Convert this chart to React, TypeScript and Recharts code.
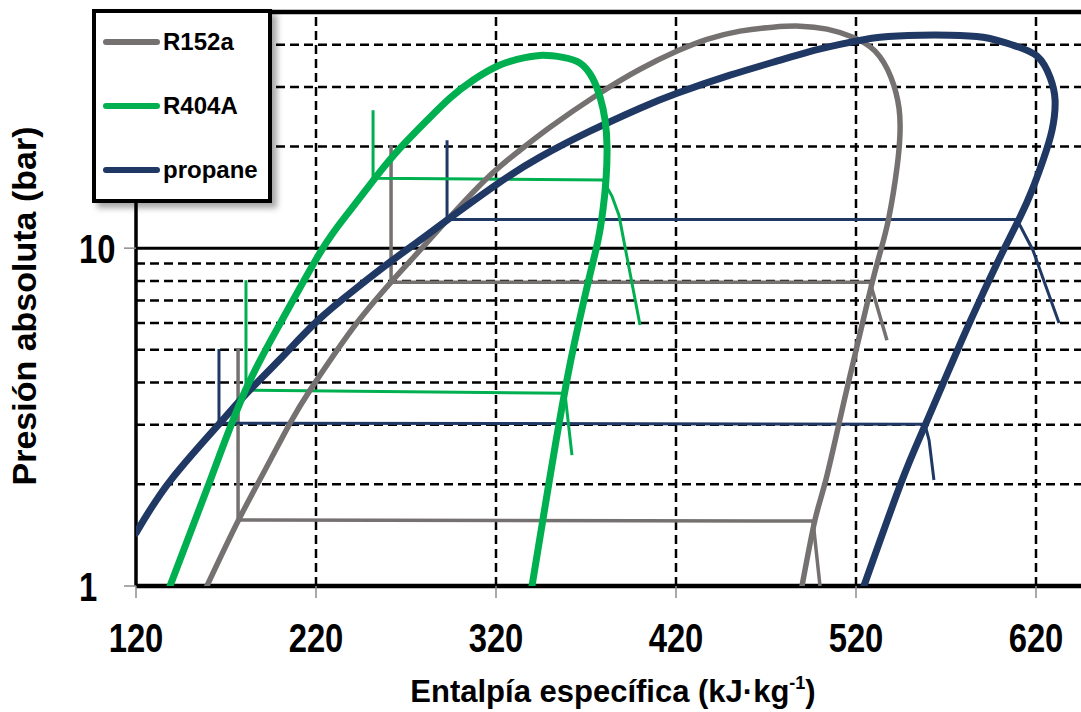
import React from 'react';
import { ComposedChart, Line, XAxis, YAxis, ReferenceLine, Label } from 'recharts';

// enthalpy (kJ/kg) vs absolute pressure (bar)
const r152aDome = [
  [159.4, 1.0], [176.7, 1.557], [191.7, 2.204], [205.6, 3.035], [216.7, 3.8], [230.6, 4.89],
  [244.4, 6.17], [262.2, 7.99], [277.8, 9.86], [292.8, 12.1], [315, 16.11], [333.3, 19.49],
  [350, 22.8], [376.1, 28.4], [400, 33.85], [420.6, 38.3], [437.2, 41.5], [455.6, 43.9],
  [473.9, 45.1], [488.9, 45.4], [503.9, 44.5], [518.3, 42.1], [530.6, 38.3], [539.4, 32.06],
  [543.9, 25.96], [544.4, 21.6], [542.8, 17.36], [538.3, 12.35], [533.3, 9.66], [528.9, 7.88],
  [524.4, 6.25], [516.1, 4.07], [510.6, 3.035], [502.8, 2.017], [497.2, 1.568], [490, 1.0],
];
const r404aDome = [
  [138.9, 1.0], [161.1, 2.045], [180.6, 3.776], [201.1, 6.12], [222.8, 9.8], [237.8, 12.69],
  [252.8, 16.11], [266.7, 19.76], [281.7, 23.9], [294.4, 27.8], [307.2, 31.4], [320.6, 34.55],
  [331.7, 36.2], [344.4, 37.2], [357.2, 36.7], [366.7, 35.3], [373.3, 32.1], [377.8, 28.0],
  [380.6, 23.9], [381.7, 19.9], [381.1, 15.9], [379.4, 12.95], [376.7, 10.56], [372.8, 8.61],
  [368.9, 7.02], [363.9, 5.34], [359.4, 4.07], [354.4, 2.894], [349.4, 2.017], [340, 1.0],
];
const propaneDome = [
  [120, 1.435], [138.9, 2.045], [166.1, 3.014], [181.1, 3.7], [200, 4.69], [220.6, 6.08],
  [241.7, 7.56], [261.1, 9.09], [277.8, 10.56], [292.8, 12.1], [320.6, 15.47], [344.4, 18.59],
  [372.2, 22.19], [400, 25.96], [420.6, 28.74], [450, 32.5], [473.9, 35.5], [492.8, 38.0],
  [511.1, 40.1], [533.3, 42.1], [555.6, 42.7], [572.2, 42.7], [590.6, 42.1], [607.2, 39.9],
  [620.6, 37.0], [627.8, 32.06], [630.6, 27.4], [628.9, 22.34], [623.9, 18.2], [617.8, 14.85],
  [611.1, 12.35], [601.1, 9.66], [590.6, 7.36], [578.3, 5.27], [558.9, 3.035], [545, 2.017],
  [524.4, 1.0],
];

// isotherms: liquid leg, two-phase plateau, vapour leg
const r152aHigh = [[261.7, 20.17], [261.7, 7.93], [527.8, 7.93], [537.2, 5.34]];
const r152aLow = [[176.7, 5.06], [176.7, 1.568], [496.1, 1.557], [500, 1.0]];
const r404aHigh = [[251.7, 25.6], [251.7, 16.1], [379.4, 15.9], [384.4, 14.26], [388.3, 12.52], [400, 5.92]];
const r404aLow = [[181.1, 8.04], [181.1, 3.8], [358.3, 3.72], [362.2, 2.44]];
const propaneHigh = [[292.8, 20.87], [292.8, 12.15], [609.4, 12.15], [618.3, 9.86], [632.8, 6.0]];
const propaneLow = [[166.1, 5.03], [166.1, 3.035], [558.3, 3.01], [560.6, 2.7], [563.3, 2.06]];

const xTicks = [120, 220, 320, 420, 520, 620];
const yTicks = [1, 10];
const xGrid = [220, 320, 420, 520, 620];
const yGrid = [2, 3, 4, 5, 6, 7, 8, 9, 20, 30, 40];

const legendNames = ['R152a', 'R404A', 'propane'];
const legendColors = ['#767171', '#00B050', '#203864'];

const FONT = "'Liberation Sans', Arial, sans-serif";

const pts = (pairs: number[][]) => pairs.map(([h, p]) => ({ h, p }));

const XTick = (props: any) => {
  const { x, y, payload } = props;
  return (
    <g transform={`translate(${x},${y})`}>
      <text transform="scale(0.8,1)" textAnchor="middle" dy="0.72em" fontSize={41} fontWeight="bold" fontFamily={FONT} fill="#000">
        {payload.value}
      </text>
    </g>
  );
};

const YTick = (props: any) => {
  const { x, y, payload } = props;
  return (
    <g transform={`translate(${x - 43},${y})`}>
      <text transform="scale(0.8,1)" textAnchor="start" dy="0.36em" fontSize={41} fontWeight="bold" fontFamily={FONT} fill="#000">
        {payload.value}
      </text>
    </g>
  );
};

const App: React.FC = () => {
  const lineProps = { type: 'linear' as const, dataKey: 'p', dot: false, activeDot: false, isAnimationActive: false };
  const domeProps = { ...lineProps, type: 'natural' as const, strokeLinecap: 'round' as const };
  return (
    <div style={{ position: 'absolute', left: 0, top: 0, width: 1081, height: 712, background: '#fff', overflow: 'hidden' }}>
      <ComposedChart width={1081} height={712} margin={{ top: 12, right: 0, bottom: 0, left: 0 }}>
        <XAxis
          type="number"
          dataKey="h"
          domain={[120, 645]}
          allowDataOverflow
          ticks={xTicks}
          height={126}
          axisLine={false}
          tickLine={{ stroke: '#8c8c8c', strokeWidth: 1.5 }}
          tickSize={12}
          tickMargin={24}
          tick={XTick}
        >
          <Label
            content={() => (
              <text x={613} y={702} textAnchor="middle" fontSize={31} fontWeight="bold" fontFamily={FONT} fill="#000">
                <tspan>Entalpía específica (kJ·kg</tspan>
                <tspan dy={-13} fontSize={18}>-1</tspan>
                <tspan dy={13}>)</tspan>
              </text>
            )}
          />
        </XAxis>
        <YAxis
          type="number"
          dataKey="p"
          scale="log"
          domain={[1, 50]}
          allowDataOverflow
          ticks={yTicks}
          width={136}
          axisLine={false}
          tickLine={{ stroke: '#8c8c8c', strokeWidth: 1.5 }}
          tickSize={12}
          tickMargin={2}
          tick={YTick}
        >
          <Label
            content={() => (
              <text transform="translate(36,306) rotate(-90)" textAnchor="middle" fontSize={34} fontWeight="bold" fontFamily={FONT} fill="#000">
                Presión absoluta (bar)
              </text>
            )}
          />
        </YAxis>

        {yGrid.map((v) => (
          <ReferenceLine key={'y' + v} y={v} stroke="#000" strokeWidth={2.5} strokeDasharray="9 5" zIndex={-50} />
        ))}
        {xGrid.map((v) => (
          <ReferenceLine key={'x' + v} x={v} stroke="#000" strokeWidth={2.5} strokeDasharray="9 5" zIndex={-50} />
        ))}
        <ReferenceLine y={10} stroke="#000" strokeWidth={3} zIndex={-50} />
        <ReferenceLine y={50} stroke="#000" strokeWidth={4.5} zIndex={-50} />
        <ReferenceLine y={1} stroke="#000" strokeWidth={4.5} zIndex={-50} />
        <ReferenceLine x={120} stroke="#000" strokeWidth={3.5} zIndex={-50} />

        <Line {...lineProps} data={pts(r152aHigh)} stroke={legendColors[0]} strokeWidth={3.5} />
        <Line {...lineProps} data={pts(r152aLow)} stroke={legendColors[0]} strokeWidth={3.5} />
        <Line {...lineProps} data={pts(propaneHigh)} stroke={legendColors[2]} strokeWidth={3} />
        <Line {...lineProps} data={pts(propaneLow)} stroke={legendColors[2]} strokeWidth={3} />
        <Line {...lineProps} data={pts(r404aHigh)} stroke={legendColors[1]} strokeWidth={3} />
        <Line {...lineProps} data={pts(r404aLow)} stroke={legendColors[1]} strokeWidth={3} />

        <Line {...domeProps} data={pts(r152aDome)} stroke={legendColors[0]} strokeWidth={5.5} />
        <Line {...domeProps} data={pts(propaneDome)} stroke={legendColors[2]} strokeWidth={7} />
        <Line {...domeProps} data={pts(r404aDome)} stroke={legendColors[1]} strokeWidth={7} />
      </ComposedChart>

      <div
        style={{
          position: 'absolute',
          left: 92,
          top: 9,
          width: 172,
          height: 186,
          border: '4px solid #000',
          background: '#fff',
          boxShadow: '5px 5px 6px rgba(0,0,0,0.35)',
          fontFamily: FONT,
        }}
      >
        {legendNames.map((name, i) => (
          <div
            key={name}
            style={{ position: 'absolute', left: 7, top: 14 + i * 64, height: 30, display: 'flex', alignItems: 'center' }}
          >
            <div style={{ width: 57, height: 6, borderRadius: 3, background: legendColors[i] }} />
            <span style={{ marginLeft: 3, fontSize: 24, fontWeight: 'bold', color: '#000', lineHeight: '30px' }}>{name}</span>
          </div>
        ))}
      </div>
    </div>
  );
};

export default App;
